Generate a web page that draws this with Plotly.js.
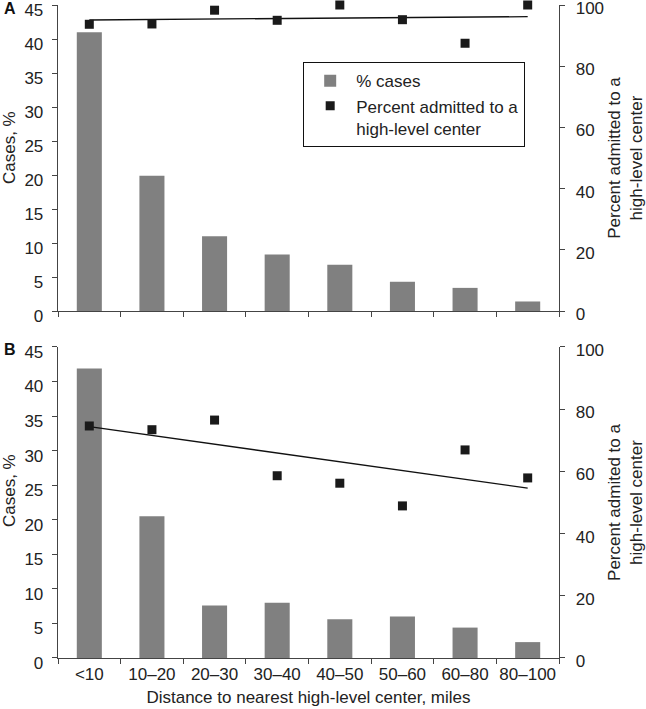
<!DOCTYPE html>
<html>
<head>
<meta charset="utf-8">
<script src="https://cdn.plot.ly/plotly-3.0.1.min.js"></script>
<style>html,body{margin:0;padding:0;background:#fff}#chart{width:646px;height:709px}</style>
</head>
<body>
<div id="chart"></div>
<script>
const categories = ['<10', '10–20', '20–30', '30–40', '40–50', '50–60', '60–80', '80–100'];
// Panel A
const casesA = [41.0, 19.9, 11.0, 8.3, 6.8, 4.3, 3.4, 1.4];
const admittedA = [93.7, 93.8, 98.3, 95.0, 100, 95.2, 87.5, 100];
const trendA = [95.1, 96.2];
// Panel B
const casesB = [41.9, 20.5, 7.6, 8.0, 5.6, 6.0, 4.4, 2.3];
const admittedB = [74.6, 73.4, 76.5, 58.6, 56.2, 48.9, 66.9, 57.9];
const trendB = [74.4, 54.6];

const FONT = 'Liberation Sans, Arial, Helvetica, sans-serif';
const barColor = '#808080';
const markColor = '#1a1a1a';
const axisColor = '#444';
const textColor = '#222';
const trendX = [categories[0], categories[categories.length - 1]];

const traces = [
  {type: 'bar', x: categories, y: casesA, xaxis: 'x2', yaxis: 'y3', name: '% cases',
   marker: {color: barColor}, showlegend: true, legendrank: 1},
  {type: 'scatter', mode: 'lines', x: trendX, y: trendA, xaxis: 'x2', yaxis: 'y4',
   line: {color: '#111', width: 1.3}, showlegend: false, cliponaxis: false},
  {type: 'scatter', mode: 'markers', x: categories, y: admittedA, xaxis: 'x2', yaxis: 'y4',
   name: 'Percent admitted to a<br>high-level center',
   marker: {symbol: 'square', size: 9, color: markColor}, showlegend: true, legendrank: 2, cliponaxis: false},
  {type: 'bar', x: categories, y: casesB, xaxis: 'x', yaxis: 'y', name: '% cases',
   marker: {color: barColor}, showlegend: false},
  {type: 'scatter', mode: 'lines', x: trendX, y: trendB, xaxis: 'x', yaxis: 'y2',
   line: {color: '#111', width: 1.3}, showlegend: false, cliponaxis: false},
  {type: 'scatter', mode: 'markers', x: categories, y: admittedB, xaxis: 'x', yaxis: 'y2',
   name: 'Percent admitted', marker: {symbol: 'square', size: 9, color: markColor},
   showlegend: false, cliponaxis: false}
];

const tickFont = {family: FONT, size: 17, color: textColor};
const titleFont = {family: FONT, size: 17, color: textColor};

function leftAxis(domain, anchor) {
  return {domain: domain, anchor: anchor, range: [0, 45], tickvals: [0,5,10,15,20,25,30,35,40,45],
    showgrid: false, zeroline: false, showline: true, linecolor: axisColor, linewidth: 1.3,
    ticks: 'outside', ticklen: 5, tickcolor: axisColor, tickfont: tickFont,
    ticklabelstandoff: 5, ticklabelshift: 5, ticklabeloverflow: 'allow', fixedrange: true};
}
function rightAxis(overlay, anchor, titleText) {
  return {overlaying: overlay, anchor: anchor, side: 'right', range: [0, 100],
    tickvals: [0,20,40,60,80,100], showgrid: false, zeroline: false, showline: true,
    linecolor: axisColor, linewidth: 1.3, ticks: 'outside', ticklen: 5, tickcolor: axisColor,
    tickfont: tickFont, ticklabelstandoff: 7, ticklabelshift: 3, ticklabeloverflow: 'allow',
    title: {text: titleText, font: titleFont, standoff: 16}, fixedrange: true};
}
function xAxis(anchor, showLabels, titleText) {
  const ax = {anchor: anchor, type: 'category', showgrid: false, zeroline: false, showline: true,
    linecolor: axisColor, linewidth: 1.3, ticks: 'outside', ticklen: 5, tickcolor: axisColor,
    tickson: 'boundaries', showticklabels: showLabels, tickfont: tickFont, tickangle: 0,
    ticklabeloverflow: 'allow', fixedrange: true, range: [-0.5, 7.5]};
  if (titleText) ax.title = {text: titleText, font: titleFont, standoff: 8};
  return ax;
}

const topDom = [0.5314, 1];
const botDom = [0, 0.4763];

const layout = {
  width: 646, height: 709,
  margin: {l: 58, r: 87, t: 5, b: 51},
  paper_bgcolor: '#fff', plot_bgcolor: '#fff',
  font: {family: FONT, color: textColor},
  bargap: 0.6,
  xaxis: xAxis('y', true, 'Distance to nearest high-level center, miles'),
  xaxis2: Object.assign(xAxis('y3', false, null), {matches: 'x'}),
  yaxis: leftAxis(botDom, 'x'),
  yaxis2: rightAxis('y', 'x', 'Percent admited to a<br>high-level center'),
  yaxis3: leftAxis(topDom, 'x2'),
  yaxis4: rightAxis('y3', 'x2', 'Percent admitted to a<br>high-level center'),
  showlegend: true,
  legend: {x: 0.489, y: 0.9127, xanchor: 'left', yanchor: 'top', bgcolor: '#fff',
    bordercolor: '#111', borderwidth: 1.2, font: {family: FONT, size: 17, color: textColor},
    tracegroupgap: 0, itemwidth: 42, valign: 'top'},
  annotations: [
    {text: '<b>A</b>', xref: 'paper', yref: 'paper', x: -0.112, y: 1.0, xanchor: 'left', yanchor: 'top',
     showarrow: false, font: {family: FONT, size: 16, color: '#111'}, yshift: 7},
    {text: '<b>B</b>', xref: 'paper', yref: 'paper', x: -0.112, y: 0.4763, xanchor: 'left', yanchor: 'top',
     showarrow: false, font: {family: FONT, size: 16, color: '#111'}, yshift: 8},
    {text: 'Cases, %', xref: 'paper', yref: 'paper', x: -0.0978, y: 0.781, xanchor: 'center', yanchor: 'middle',
     textangle: -90, showarrow: false, font: titleFont},
    {text: 'Cases, %', xref: 'paper', yref: 'paper', x: -0.0978, y: 0.2557, xanchor: 'center', yanchor: 'middle',
     textangle: -90, showarrow: false, font: titleFont}
  ]
};

Plotly.newPlot('chart', traces, layout, {staticPlot: true, displayModeBar: false});
</script>
</body>
</html>
